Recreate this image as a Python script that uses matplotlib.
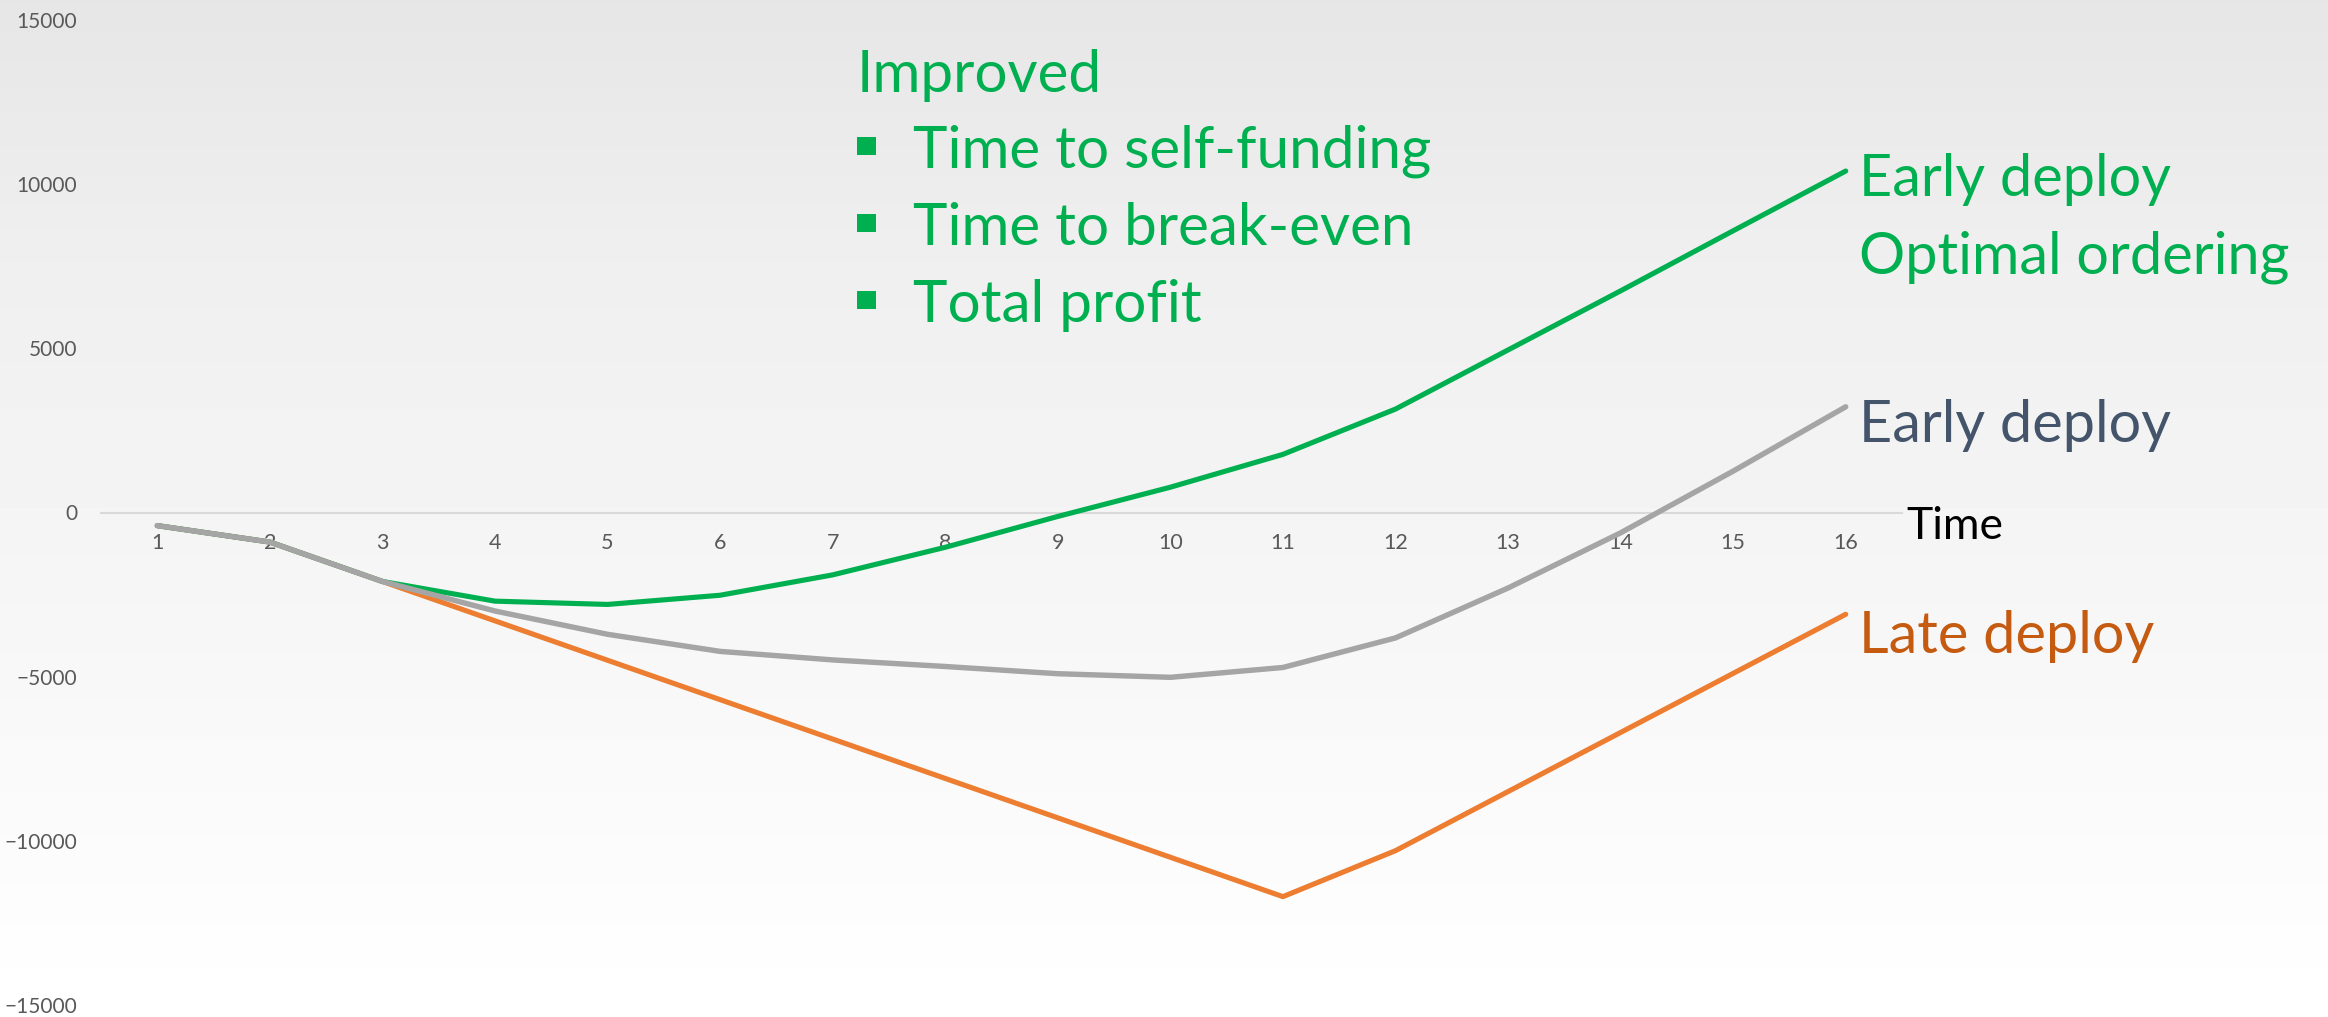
import matplotlib
matplotlib.use("Agg")
import matplotlib.pyplot as plt
from matplotlib.patches import Rectangle
import numpy as np

# Data
periods = list(range(1, 17))
late_deploy = [-400, -900, -2100, -3300, -4500, -5700, -6900, -8100,
               -9300, -10500, -11700, -10300, -8500, -6700, -4900, -3100]
early_optimal = [-400, -900, -2100, -2700, -2800, -2520, -1900, -1060,
                 -120, 770, 1770, 3150, 4950, 6750, 8580, 10400]
early_deploy = [-400, -900, -2100, -3000, -3710, -4230, -4490, -4690,
                -4910, -5020, -4720, -3820, -2300, -620, 1260, 3220]
y_ticks = [-15000, -10000, -5000, 0, 5000, 10000, 15000]
improved_items = ["Time to self-funding", "Time to break-even", "Total profit"]

W, H = 2328, 1017
GREEN = "#00B050"
GRAY = "#A5A5A5"
ORANGE = "#ED7D31"
FONT = ["Lato", "DejaVu Sans"]

plt.rcParams["font.family"] = FONT

fig = plt.figure(figsize=(W / 100, H / 100), dpi=100)

# light vertical gradient behind everything
bg = fig.add_axes([0, 0, 1, 1], zorder=-10)
grad = np.interp(np.linspace(0, 1, 256), [0, 0.25, 0.5, 0.75, 1.0],
                 [0.902, 0.937, 0.957, 0.978, 1.0])
bg.imshow(np.repeat(grad[:, None], 2, axis=1), cmap="gray", vmin=0, vmax=1,
          aspect="auto", extent=[0, 1, 0, 1])
bg.axis("off")


def px(x, y):
    """pixel position (from top-left) -> figure fraction"""
    return x / W, 1 - y / H


ax = fig.add_axes([101 / W, 12 / H, (1902 - 101) / W, (997 - 12) / H])
ax.patch.set_alpha(0)

ax.plot(periods, late_deploy, color=ORANGE, lw=3.7, solid_capstyle="round",
        solid_joinstyle="round")
ax.plot(periods, early_optimal, color=GREEN, lw=3.7, solid_capstyle="round",
        solid_joinstyle="round")
ax.plot(periods, early_deploy, color=GRAY, lw=3.9, solid_capstyle="round",
        solid_joinstyle="round")

ax.set_xlim(0.5, 16.5)
ax.set_ylim(-15000, 15000)
ax.set_xticks(periods)
ax.set_yticks(y_ticks)

for side in ["top", "right", "left"]:
    ax.spines[side].set_visible(False)
ax.spines["bottom"].set_position(("data", 0))
ax.spines["bottom"].set_color("#D9D9D9")
ax.spines["bottom"].set_linewidth(1.5)
ax.spines["bottom"].set_zorder(0)

ax.tick_params(axis="x", length=0, pad=15, labelsize=15.5, labelcolor="#595959")
ax.tick_params(axis="y", length=0, pad=17, labelsize=15, labelcolor="#595959")

# end-of-line labels
label_kw = dict(textcoords="offset pixels", fontsize=41.5, va="baseline",
                ha="left", annotation_clip=False)
ax.annotate("Early deploy", xy=(16, early_optimal[-1]), xytext=(13, -25),
            color=GREEN, **label_kw)
ax.annotate("Optimal ordering", xy=(16, early_optimal[-1]), xytext=(13, -102),
            color=GREEN, **label_kw)
ax.annotate("Early deploy", xy=(16, early_deploy[-1]), xytext=(13, -35),
            color="#44546A", **label_kw)
ax.annotate("Late deploy", xy=(16, late_deploy[-1]), xytext=(13, -39),
            color="#C55A11", **label_kw)

fig.text(*px(1906, 539), "Time", color="black", fontsize=32, va="baseline")

# "Improved" block
fig.text(*px(857, 92), "Improved", color=GREEN, fontsize=42, va="baseline")
for i, item in enumerate(improved_items):
    base = 168 + i * 77
    fig.text(*px(913, base), item, color=GREEN, fontsize=42, va="baseline")
    fig.add_artist(Rectangle(px(857, base - 13), 19 / W, 18 / H,
                             transform=fig.transFigure, color=GREEN, lw=0))

fig.savefig("out.png", dpi=100)
